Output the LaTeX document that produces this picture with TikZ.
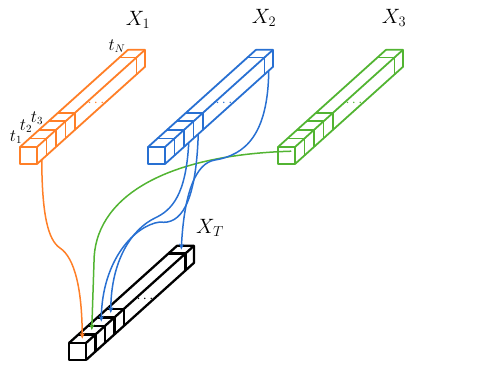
\documentclass[tikz,border=0pt]{standalone}
\usetikzlibrary{arrows.meta}
\definecolor{xorange}{RGB}{255,127,39}
\definecolor{xblue}{RGB}{40,112,210}
\definecolor{xgreen}{RGB}{82,180,50}
\begin{document}
\begin{tikzpicture}[x=1pt, y=-1pt,
  every node/.style={font=\fontsize{20}{24}\selectfont},
  lbl/.style={font=\fontsize{16}{18}\selectfont, inner sep=0pt},
  bar/.style={line width=1.8pt, line join=round},
  link/.style={line width=1.5pt, -{Stealth[length=6pt,width=5pt]}},
  tsbar/.pic={
    \draw (0,0) rectangle (17,17);
    \draw (0,0) -- ++(108,-97.2) -- ++(17,0) -- ++(0,17) -- (17,17);
    \draw (17,0) -- ++(108,-97.2);
    \foreach \dd in {9.5,19,28.5,38,99.5}
      \draw (\dd,-0.9*\dd) -- ++(17,0) -- ++(0,17);
    \node[font=\fontsize{15}{16}\selectfont, inner sep=0pt] (-dots) at (76,-44) {$\cdots$};
    \foreach \k/\dd in {1/4.75,2/14.25,3/23.75,4/33.25,N/103.75}{
      \coordinate (-top\k) at ({8.5+\dd},{-0.9*\dd});
      \coordinate (-bot\k) at ({17+\dd},{17-0.9*\dd});
    }
    \coordinate (-mid1) at (13.25,4.2);
  }]
\useasboundingbox (0,0) rectangle (481,368);
% input series
\pic[bar, xorange] (x1) at (20,147) {tsbar};
\pic[bar, xblue] (x2) at (148,147) {tsbar};
\pic[bar, xgreen] (x3) at (278,147) {tsbar};
% merged series
\pic[bar, black, line width=2.3pt] (xt) at (69,343) {tsbar};
% labels
\node (lx1) at (138,20) {$X_1$};
\node (lx2) at (264,18) {$X_2$};
\node (lx3) at (394,18) {$X_3$};
\node (lxt) at (210,228) {$X_T$};
\node[lbl] (lt1) at (16,137) {$t_1$};
\node[lbl] (lt2) at (26,126) {$t_2$};
\node[lbl] (lt3) at (37,118) {$t_3$};
\node[lbl] (ltn) at (117,46) {$t_N$};
% links
\draw[link, xorange] (x1-bot1) .. controls (42,215) and (48,240) .. (60,248) .. controls (75,258) and (82,290) .. (xt-top1);
\draw[link, xgreen] (x3-mid1) .. controls (160,155) and (94,200) .. (94,262) -- (xt-top2);
\draw[link, xblue] (x2-botN) .. controls (268,135) and (245,155) .. (215,160) .. controls (195,163) and (184,195) .. (xt-topN);
\draw[link, xblue] (x2-bot3) .. controls (186,195) and (172,210) .. (155,218) .. controls (132,229) and (111,260) .. (xt-top4);
\draw[link, xblue] (x2-bot4) .. controls (196,205) and (180,225) .. (160,222) .. controls (135,225) and (102,260) .. (xt-top3);
\end{tikzpicture}
\end{document}
